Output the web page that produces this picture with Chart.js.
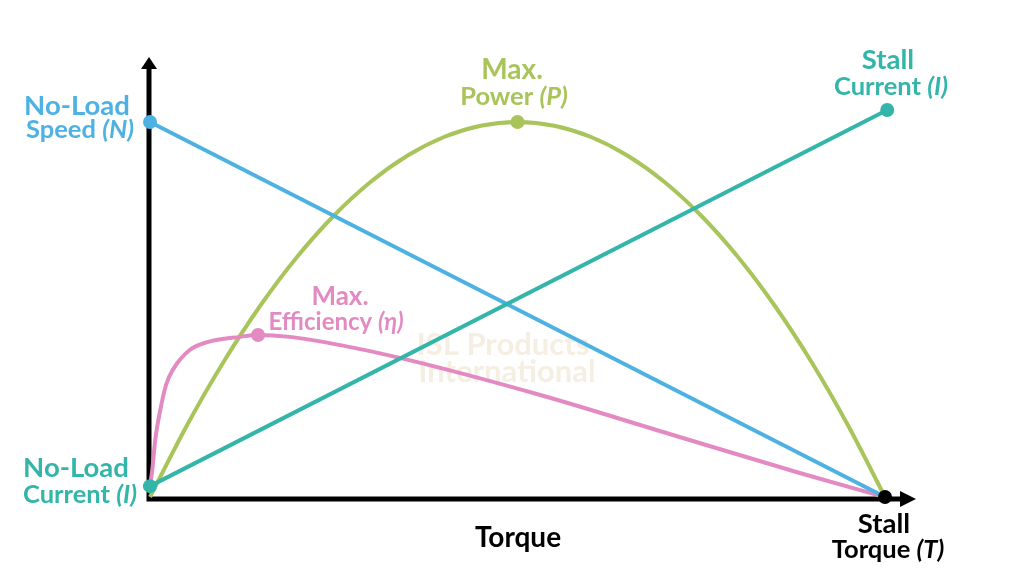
<!DOCTYPE html>
<html>
<head>
<meta charset="utf-8">
<script src="https://cdn.jsdelivr.net/npm/chart.js@4.4.0/dist/chart.umd.min.js"></script>
<style>
  html, body { margin: 0; padding: 0; background: #fff; overflow: hidden; }
  canvas { display: block; }
</style>
</head>
<body>
<canvas id="motorChart" width="1024" height="585"></canvas>
<script>
// Curvas del motor (par normalizado 0..1)
const speedX = [0, 1];
const speedY = [1, 0];
const currentX = [0, 1.003];
const currentY = [0.029, 1.032];
const powerX = [0, 0.05, 0.1, 0.15, 0.2, 0.25, 0.3, 0.35, 0.4, 0.45, 0.5, 0.55, 0.6, 0.65, 0.7, 0.75, 0.8, 0.85, 0.9, 0.95, 1];
const powerY = [0, 0.19, 0.36, 0.51, 0.64, 0.75, 0.84, 0.91, 0.96, 0.99, 1, 0.99, 0.96, 0.91, 0.84, 0.75, 0.64, 0.51, 0.36, 0.19, 0];
const effX = [0, 0.003, 0.007, 0.014, 0.022, 0.031, 0.054, 0.078, 0.122, 0.147, 0.19, 0.259, 0.34, 0.531, 0.707, 0.884, 1];
const effY = [0.03, 0.07, 0.15, 0.232, 0.3, 0.339, 0.392, 0.413, 0.427, 0.432, 0.427, 0.405, 0.371, 0.272, 0.168, 0.064, 0];

const BLUE = '#4db2e2';
const TEAL = '#33b5aa';
const GREEN = '#a8c45a';
const PINK = '#e38ac2';

function pts(xs, ys) {
  return xs.map((x, i) => ({ x: x, y: ys[i] }));
}
function radiusAt(n, idx) {
  return Array.from({ length: n }, (_, i) => idx.includes(i) ? 7 : 0);
}

function lineSet(label, xs, ys, color, dots) {
  return {
    label: label,
    data: pts(xs, ys),
    borderColor: color,
    backgroundColor: color,
    pointBackgroundColor: color,
    pointBorderWidth: 0,
    borderWidth: 4,
    pointRadius: radiusAt(xs.length, dots),
    pointHoverRadius: 0,
    cubicInterpolationMode: 'monotone',
    clip: false
  };
}

// texto con partes en cursiva
function drawLabel(ctx, parts, cx, y, size, color) {
  let total = 0;
  parts.forEach(p => {
    ctx.font = (p[1] ? 'italic ' : '') + 'bold ' + size + 'px Lato';
    total += ctx.measureText(p[0]).width;
  });
  let x = cx - total / 2;
  ctx.fillStyle = color;
  ctx.textAlign = 'left';
  ctx.textBaseline = 'alphabetic';
  parts.forEach(p => {
    ctx.font = (p[1] ? 'italic ' : '') + 'bold ' + size + 'px Lato';
    ctx.fillText(p[0], x, y);
    x += ctx.measureText(p[0]).width;
  });
}

const axesPlugin = {
  id: 'axesPlugin',
  beforeDatasetsDraw(chart) {
    const ctx = chart.ctx;
    const xs = chart.scales.x, ys = chart.scales.y;
    const ox = xs.getPixelForValue(0) - 1;
    const oy = ys.getPixelForValue(0) + 2;
    ctx.save();
    // marca de agua
    ctx.fillStyle = '#f4efe2';
    ctx.font = 'bold 31px Lato';
    ctx.textAlign = 'center';
    ctx.fillText('ISL Products', 503, 355);
    ctx.fillText('International', 507, 382);
    // ejes
    ctx.strokeStyle = '#000';
    ctx.lineWidth = 5;
    ctx.beginPath();
    ctx.moveTo(ox, oy + 2.5);
    ctx.lineTo(ox, 68);
    ctx.moveTo(ox - 2.5, oy);
    ctx.lineTo(902, oy);
    ctx.stroke();
    ctx.fillStyle = '#000';
    ctx.beginPath();
    ctx.moveTo(ox, 57);
    ctx.lineTo(ox - 8, 69);
    ctx.lineTo(ox + 8, 69);
    ctx.closePath();
    ctx.fill();
    ctx.beginPath();
    ctx.moveTo(916, oy);
    ctx.lineTo(900, oy - 8);
    ctx.lineTo(900, oy + 8);
    ctx.closePath();
    ctx.fill();
    ctx.restore();
  },
  afterDraw(chart) {
    const ctx = chart.ctx;
    ctx.save();
    drawLabel(ctx, [['No-Load', false]], 77, 115, 27.5, BLUE);
    drawLabel(ctx, [['Speed ', false], ['(N)', true]], 80, 138, 25.5, BLUE);
    drawLabel(ctx, [['No-Load', false]], 76, 477, 27.5, TEAL);
    drawLabel(ctx, [['Current ', false], ['(I)', true]], 80, 503, 25.5, TEAL);
    drawLabel(ctx, [['Stall', false]], 888, 69, 27.5, TEAL);
    drawLabel(ctx, [['Current ', false], ['(I)', true]], 891, 95, 25.5, TEAL);
    drawLabel(ctx, [['Max.', false]], 512, 79, 28, GREEN);
    drawLabel(ctx, [['Power ', false], ['(P)', true]], 514, 105, 25.5, GREEN);
    drawLabel(ctx, [['Max.', false]], 340, 305, 26, PINK);
    drawLabel(ctx, [['Efficiency ', false], ['(η)', true]], 336, 330, 24, PINK);
    drawLabel(ctx, [['Stall', false]], 884, 533, 27.5, '#000');
    drawLabel(ctx, [['Torque ', false], ['(T)', true]], 888, 558, 25.5, '#000');
    drawLabel(ctx, [['Torque', false]], 518, 547, 28, '#000');
    ctx.restore();
  }
};

new Chart(document.getElementById('motorChart'), {
  type: 'line',
  data: {
    // el primer dataset queda encima
    datasets: [
      {
        label: 'Stall',
        data: [{ x: 1, y: 0 }],
        showLine: false,
        pointRadius: 7,
        pointBorderWidth: 0,
        pointBackgroundColor: '#000',
        clip: false
      },
      lineSet('Current', currentX, currentY, TEAL, [0, 1]),
      lineSet('Speed', speedX, speedY, BLUE, [0]),
      lineSet('Efficiency', effX, effY, PINK, [9]),
      lineSet('Power', powerX, powerY, GREEN, [10])
    ]
  },
  options: {
    responsive: false,
    animation: false,
    devicePixelRatio: 1,
    // x: 0 -> 150px, 1 -> 885px ; y: 0 -> 497px, 1 -> 122px
    layout: { padding: { left: 150, right: 124.3, top: 84.5, bottom: 88 } },
    plugins: {
      legend: { display: false },
      tooltip: { enabled: false }
    },
    scales: {
      x: { type: 'linear', min: 0, max: 1.02, display: false },
      y: { type: 'linear', min: 0, max: 1.1, display: false }
    }
  },
  plugins: [axesPlugin]
});
</script>
</body>
</html>
